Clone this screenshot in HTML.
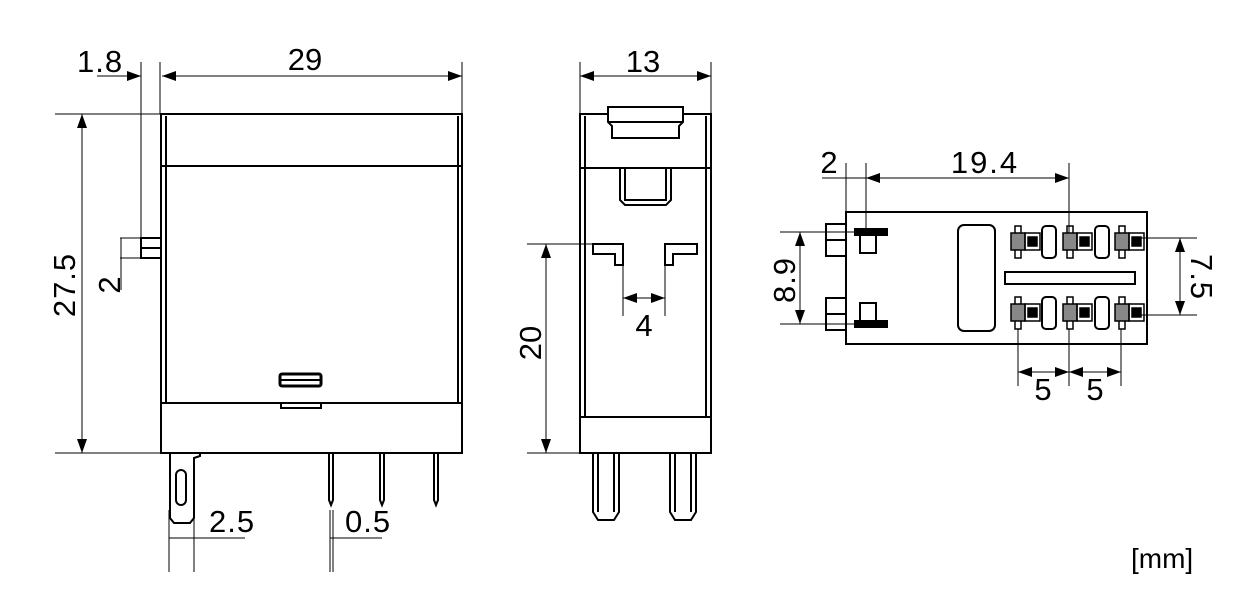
<!DOCTYPE html>
<html><head><meta charset="utf-8"><style>
html,body{margin:0;padding:0;background:#fff}
svg{display:block}
text{font-family:"Liberation Sans",Arial,sans-serif;fill:#000}
</style></head><body>
<svg width="1240" height="594" viewBox="0 0 1240 594" xmlns="http://www.w3.org/2000/svg">
<defs>
<marker id="a" viewBox="0 0 14 10" refX="14" refY="5" markerWidth="14" markerHeight="10" markerUnits="userSpaceOnUse" orient="auto-start-reverse"><path d="M0,0 L14,5 L0,10 z" fill="#000"/></marker>
</defs>
<g stroke="#000" fill="none" stroke-width="1">
<!-- LEFT VIEW -->
<g stroke-width="2">
<rect x="161" y="114" width="301" height="339"/>
<line x1="161" y1="166" x2="462" y2="166"/>
<line x1="161" y1="403" x2="462" y2="403"/>
<line x1="166" y1="116" x2="166" y2="403"/>
<line x1="458" y1="116" x2="458" y2="403"/>
<rect x="280" y="374" width="41" height="12" rx="2" stroke-width="3"/>
<line x1="281" y1="380" x2="320" y2="380"/>
<path d="M281,403 V408 H321 V403"/>
<rect x="141" y="238" width="20" height="20"/>
<line x1="141" y1="248" x2="161" y2="248"/>
<path d="M170,453 V518 L174,523 H190 L194,518 V458 L200,456 V453"/>
<rect x="176" y="470" width="10" height="35" rx="5"/>
<path d="M329,453 V500 L331,505 L333,500 V453"/>
<path d="M380,453 V500 L382,505 L384,500 V453"/>
<path d="M434,453 V500 L436,505 L438,500 V453"/>
</g>
<!-- dims left -->
<line x1="141" y1="62" x2="141" y2="238"/>
<line x1="160" y1="62" x2="160" y2="114"/>
<line x1="462" y1="62" x2="462" y2="114"/>
<line x1="97" y1="76" x2="141" y2="76" marker-end="url(#a)"/>
<line x1="162" y1="76" x2="462" y2="76" marker-start="url(#a)" marker-end="url(#a)"/>
<line x1="55" y1="114" x2="160" y2="114"/>
<line x1="55" y1="453" x2="160" y2="453"/>
<line x1="82" y1="114" x2="82" y2="453" marker-start="url(#a)" marker-end="url(#a)"/>
<line x1="120" y1="238" x2="141" y2="238"/>
<line x1="120" y1="258" x2="141" y2="258"/>
<line x1="121" y1="238" x2="121" y2="290"/>
<line x1="169" y1="510" x2="169" y2="572"/>
<line x1="194" y1="510" x2="194" y2="572"/>
<line x1="169" y1="538" x2="245" y2="538"/>
<line x1="330" y1="510" x2="330" y2="572"/>
<line x1="333" y1="510" x2="333" y2="572"/>
<line x1="330" y1="538" x2="382" y2="538"/>

<!-- MIDDLE VIEW -->
<g stroke-width="2">
<rect x="580" y="114" width="131" height="339"/>
<line x1="580" y1="168" x2="711" y2="168"/>
<line x1="580" y1="417" x2="711" y2="417"/>
<line x1="585" y1="116" x2="585" y2="417"/>
<line x1="706" y1="116" x2="706" y2="417"/>
<path d="M608,122 V107 H683 V122 L679,126 V138 H612 V126 Z" fill="#fff"/>
<line x1="608" y1="122" x2="683" y2="122"/>
<path d="M620,168 V200 L625,205 H666 L671,200 V168"/>
<path d="M625,168 V200 H666 V168"/>
<path d="M593,244 H623 V265 H615 V254 H593 Z"/>
<path d="M697,244 H665 V265 H673 V254 H697 Z"/>
<path d="M593,453 V512 L598,520 H614 L619,512 V453"/>
<line x1="598" y1="453" x2="598" y2="512"/><line x1="614" y1="453" x2="614" y2="512"/>
<path d="M670,453 V512 L675,520 H691 L696,512 V453"/>
<line x1="675" y1="453" x2="675" y2="512"/><line x1="691" y1="453" x2="691" y2="512"/>
</g>
<line x1="580" y1="62" x2="580" y2="114"/>
<line x1="711" y1="62" x2="711" y2="114"/>
<line x1="580" y1="76" x2="711" y2="76" marker-start="url(#a)" marker-end="url(#a)"/>
<line x1="527" y1="244" x2="593" y2="244"/>
<line x1="527" y1="453" x2="580" y2="453"/>
<line x1="546" y1="244" x2="546" y2="453" marker-start="url(#a)" marker-end="url(#a)"/>
<line x1="623" y1="265" x2="623" y2="316"/>
<line x1="665" y1="265" x2="665" y2="316"/>
<line x1="623" y1="298" x2="665" y2="298" marker-start="url(#a)" marker-end="url(#a)"/>

<!-- RIGHT VIEW -->
<g stroke-width="2">
<rect x="846" y="212" width="301" height="132"/>
<rect x="826" y="224" width="20" height="32"/><line x1="826" y1="240" x2="846" y2="240"/>
<rect x="826" y="298" width="20" height="32"/><line x1="826" y1="314" x2="846" y2="314"/>
<rect x="958" y="225" width="37" height="106" rx="6"/>
<rect x="1005" y="272" width="130" height="12"/>
<rect x="1042" y="226" width="14" height="32" rx="4"/>
<rect x="1095" y="226" width="14" height="32" rx="4"/>
<rect x="1042" y="297" width="14" height="32" rx="4"/>
<rect x="1095" y="297" width="14" height="32" rx="4"/>
<rect x="855" y="229" width="32" height="6" fill="#000"/>
<rect x="860" y="235" width="16" height="18"/>
<rect x="855" y="321" width="32" height="6" fill="#000"/>
<rect x="860" y="303" width="16" height="18"/>
</g>
<g stroke-width="1.5">
<g id="t">
<rect x="1015" y="226" width="6" height="32"/>
<rect x="1011" y="233" width="14" height="17" fill="#888"/>
<rect x="1025" y="233" width="15" height="17"/>
<rect x="1028" y="237" width="9" height="9" fill="#000"/>
</g>
<use href="#t" x="52"/><use href="#t" x="104"/>
<use href="#t" y="71"/><use href="#t" x="52" y="71"/><use href="#t" x="104" y="71"/>
</g>
<line x1="846" y1="163" x2="846" y2="212"/>
<line x1="866" y1="163" x2="866" y2="232"/>
<line x1="1069" y1="163" x2="1069" y2="233"/>
<line x1="822" y1="178" x2="866" y2="178"/>
<line x1="866" y1="178" x2="1069" y2="178" marker-start="url(#a)" marker-end="url(#a)"/>
<line x1="780" y1="232" x2="862" y2="232"/>
<line x1="780" y1="324" x2="862" y2="324"/>
<line x1="800" y1="232" x2="800" y2="324" marker-start="url(#a)" marker-end="url(#a)"/>
<line x1="1140" y1="238" x2="1197" y2="238"/>
<line x1="1140" y1="315" x2="1197" y2="315"/>
<line x1="1180" y1="238" x2="1180" y2="315" marker-start="url(#a)" marker-end="url(#a)"/>
<line x1="1018" y1="329" x2="1018" y2="386"/>
<line x1="1069" y1="329" x2="1069" y2="386"/>
<line x1="1121" y1="329" x2="1121" y2="386"/>
<line x1="1018" y1="372" x2="1069" y2="372" marker-start="url(#a)" marker-end="url(#a)"/>
<line x1="1069" y1="372" x2="1121" y2="372" marker-start="url(#a)" marker-end="url(#a)"/>
</g>
<g font-size="31">
<text x="77" y="72" letter-spacing="1">1.8</text>
<text x="305" y="70" text-anchor="middle">29</text>
<text x="643" y="72" text-anchor="middle">13</text>
<text transform="translate(75,285) rotate(-90)" text-anchor="middle" letter-spacing="1">27.5</text>
<text transform="translate(120,285) rotate(-90)" text-anchor="middle">2</text>
<text x="209" y="532" letter-spacing="1">2.5</text>
<text x="345" y="532" letter-spacing="1">0.5</text>
<text transform="translate(541,343) rotate(-90)" text-anchor="middle">20</text>
<text x="644" y="336" text-anchor="middle">4</text>
<text x="829" y="173" text-anchor="middle">2</text>
<text x="985" y="173" text-anchor="middle" letter-spacing="2">19.4</text>
<text transform="translate(795,280) rotate(-90)" text-anchor="middle" letter-spacing="1">8.9</text>
<text transform="translate(1191,277) rotate(90)" text-anchor="middle" letter-spacing="1">7.5</text>
<text x="1043" y="400" text-anchor="middle">5</text>
<text x="1095" y="400" text-anchor="middle">5</text>
<text x="1131" y="568" font-size="28">[mm]</text>
</g>
</svg>
</body></html>
